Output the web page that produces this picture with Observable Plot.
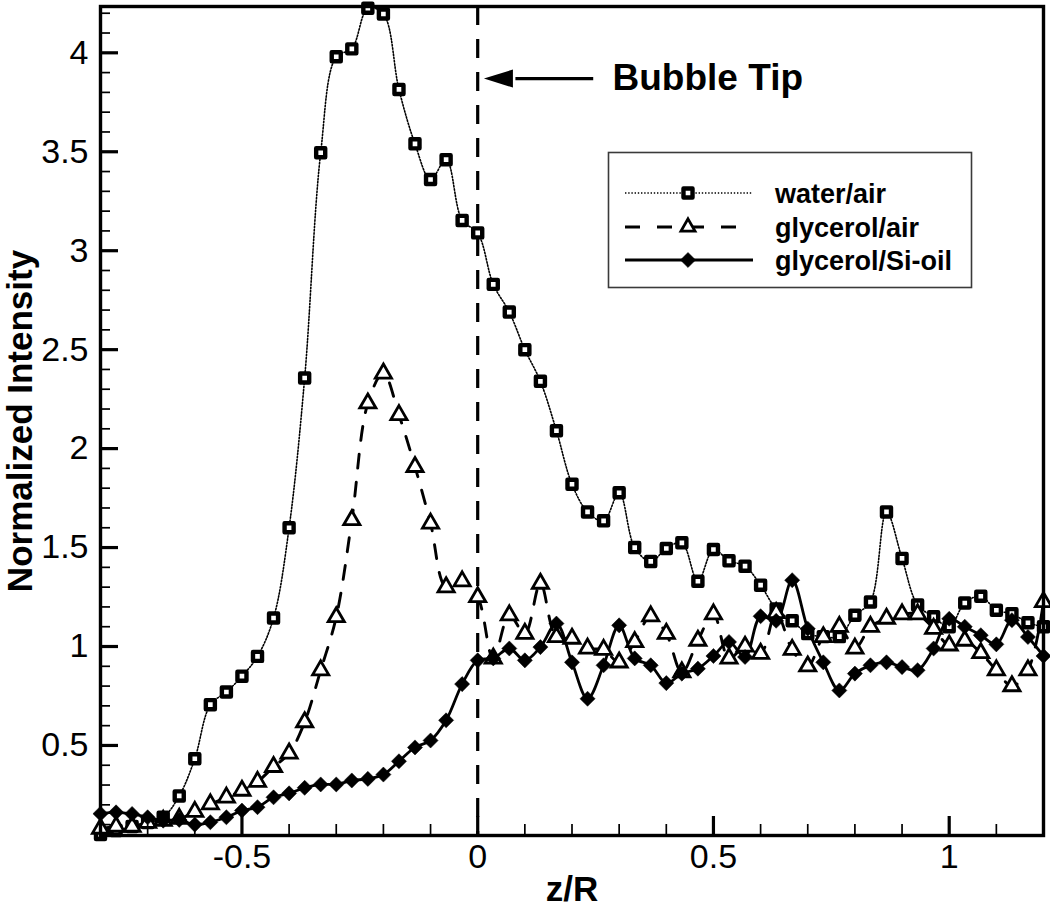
<!DOCTYPE html>
<html><head><meta charset="utf-8">
<script src="https://cdn.jsdelivr.net/npm/d3@7"></script>
<script src="https://cdn.jsdelivr.net/npm/@observablehq/plot@0.6"></script>
<style>
html,body{margin:0;padding:0;background:#fff;}
#chart{width:1050px;height:908px;}
</style></head><body><div id="chart"></div>
<script>
// ---- data ----
const zR = [-0.8,-0.767,-0.733,-0.7,-0.667,-0.633,-0.6,-0.567,-0.533,-0.5,-0.467,-0.433,-0.4,-0.367,-0.333,-0.3,-0.267,-0.233,-0.2,-0.167,-0.133,-0.1,-0.067,-0.033,0,0.033,0.067,0.1,0.133,0.167,0.2,0.233,0.267,0.3,0.333,0.367,0.4,0.433,0.467,0.5,0.533,0.567,0.6,0.633,0.667,0.7,0.733,0.767,0.8,0.833,0.867,0.9,0.933,0.967,1.0,1.033,1.067,1.1,1.133,1.167,1.2];
const waterAir = [0.05,0.07,0.09,0.11,0.137,0.245,0.433,0.706,0.77,0.85,0.95,1.144,1.60,2.357,3.495,3.98,4.02,4.225,4.196,3.815,3.54,3.36,3.46,3.153,3.09,2.83,2.69,2.50,2.34,2.09,1.82,1.68,1.635,1.777,1.50,1.43,1.495,1.524,1.33,1.49,1.433,1.406,1.31,1.19,1.13,1.065,1.05,1.05,1.158,1.225,1.68,1.445,1.21,1.15,1.10,1.22,1.254,1.183,1.166,1.12,1.10];
const glycerolAir = [0.08,0.09,0.09,0.11,0.12,0.13,0.165,0.203,0.237,0.272,0.317,0.392,0.46,0.618,0.88,1.149,1.639,2.229,2.38,2.17,1.908,1.622,1.30,1.33,1.25,0.94,1.158,1.065,1.318,1.048,1.04,0.99,0.984,0.92,1.023,1.153,1.065,0.87,1.03,1.163,0.94,1.0,0.964,1.17,0.984,0.90,1.048,1.10,0.99,1.10,1.141,1.163,1.163,1.09,1.006,1.03,0.967,0.88,0.80,0.88,1.225];
const glycerolSiOil = [0.155,0.162,0.154,0.137,0.12,0.124,0.10,0.112,0.137,0.171,0.188,0.238,0.258,0.286,0.303,0.303,0.323,0.331,0.353,0.42,0.49,0.525,0.627,0.81,0.93,0.94,0.99,0.93,0.997,1.116,0.92,0.736,0.905,1.107,0.94,0.905,0.815,0.863,0.888,0.952,1.023,0.947,1.153,1.13,1.335,1.09,0.92,0.778,0.863,0.905,0.92,0.896,0.88,0.99,1.14,1.10,1.057,1.011,1.133,1.048,0.952];
const seriesNames = ["water/air", "glycerol/air", "glycerol/Si-oil"];
const xMajorTicks = [-0.5, 0, 0.5, 1];
const xMinorTicks = [-0.7,-0.6,-0.4,-0.3,-0.2,-0.1,0.1,0.2,0.3,0.4,0.6,0.7,0.8,0.9,1.1];
const yMajorTicks = [0.5,1,1.5,2,2.5,3,3.5,4];
const yMinorTicks = [0.1,0.2,0.3,0.4,0.6,0.7,0.8,0.9,1.1,1.2,1.3,1.4,1.6,1.7,1.8,1.9,2.1,2.2,2.3,2.4,2.6,2.7,2.8,2.9,3.1,3.2,3.3,3.4,3.6,3.7,3.8,3.9,4.1,4.2];
const tipLine = [0];
const annotation = [{x: 0.286, y: 3.87, label: "Bubble Tip"}];
const arrowShaft = [{x1: 0.08, x2: 0.245, y: 3.87}];
const arrowHead = [{x: 0.045, y: 3.87}];
const xLabel = "z/R";
const yLabel = "Normalized Intensity";

// ---- build ----
const FONT = "'Liberation Sans', Arial, Helvetica, sans-serif";
const W = 1050, H = 908, ML = 100, MR = 7, MT = 6, MB = 73;
const PW = W - ML - MR, PH = H - MT - MB;

const seriesValues = [waterAir, glycerolAir, glycerolSiOil];
const tables = seriesValues.map((vals, s) => zR.map((z, i) => ({z, v: vals[i], series: seriesNames[s]})));

const styles = [
  {line: {stroke: "black", strokeWidth: 1.6, strokeDasharray: "1.4,1.8"}, dot: {symbol: "square", r: 5.1, fill: "white", stroke: "black", strokeWidth: 4.4, strokeLinejoin: "round"}},
  {line: {stroke: "black", strokeWidth: 2.9, strokeDasharray: "14,14"}, dot: {symbol: "triangle", r: 6.0, fill: "white", stroke: "black", strokeWidth: 2.8, strokeLinejoin: "miter"}},
  {line: {stroke: "black", strokeWidth: 2.8}, dot: {symbol: "diamond2", r: 6.8, fill: "black", stroke: "black", strokeWidth: 0.5}}
];

const arrowSymbol = {draw(ctx) { ctx.moveTo(-15, 0); ctx.lineTo(14, -9); ctx.lineTo(14, 9); ctx.closePath(); }};

function legendMark() {
  const g = d3.create("svg:g");
  const bx = 608.5, by = 152.5, bw = 363, bh = 135;
  g.append("rect").attr("x", bx).attr("y", by).attr("width", bw).attr("height", bh)
    .attr("fill", "white").attr("stroke", "#3a3a3a").attr("stroke-width", 1.6);
  const rows = [193, 227, 260];
  const symbols = [d3.symbolSquare, d3.symbolTriangle, d3.symbolDiamond2];
  seriesNames.forEach((name, i) => {
    const st = styles[i];
    const y = rows[i];
    g.append("line").attr("x1", 625).attr("x2", 753).attr("y1", y).attr("y2", y)
      .attr("stroke", "black").attr("stroke-width", st.line.strokeWidth)
      .attr("stroke-dasharray", i === 1 ? "15,17" : (st.line.strokeDasharray || null));
    const size = Math.PI * st.dot.r * st.dot.r * (i === 1 ? 0.75 : 1);
    g.append("path").attr("transform", `translate(688,${y})`)
      .attr("d", d3.symbol(symbols[i], size)())
      .attr("fill", st.dot.fill).attr("stroke", st.dot.stroke).attr("stroke-width", st.dot.strokeWidth)
      .attr("stroke-linejoin", st.dot.strokeLinejoin || "miter");
    g.append("text").attr("x", 775).attr("y", y).attr("dy", "0.36em")
      .attr("text-anchor", "start")
      .attr("font-family", FONT).attr("font-size", 27).attr("font-weight", "bold").attr("fill", "black")
      .text(name);
  });
  return g.node();
}

const marks = [];
// vertical dashed line at the bubble tip
marks.push(Plot.ruleX(tipLine, {stroke: "black", strokeWidth: 3.2, strokeDasharray: "19,14"}));
// series
tables.forEach((t, s) => {
  marks.push(Plot.line(t, {x: "z", y: "v", curve: "catmull-rom", ...styles[s].line}));
});
tables.forEach((t, s) => {
  marks.push(Plot.dot(t, {x: "z", y: "v", ...styles[s].dot}));
});
// ticks (inward)
marks.push(Plot.ruleX(xMajorTicks, {stroke: "black", strokeWidth: 3.2, insetTop: PH - 19}));
marks.push(Plot.ruleX(xMinorTicks, {stroke: "black", strokeWidth: 1.7, insetTop: PH - 11}));
marks.push(Plot.ruleY(yMajorTicks, {stroke: "black", strokeWidth: 3.2, insetRight: PW - 18}));
marks.push(Plot.ruleY(yMinorTicks, {stroke: "black", strokeWidth: 1.7, insetRight: PW - 10}));
marks.push(Plot.frame({stroke: "black", strokeWidth: 3.4}));
// tick labels
marks.push(Plot.axisX({ticks: xMajorTicks, tickSize: 0, tickPadding: 8, tickFormat: d => String(d), label: null, fontSize: 34}));
marks.push(Plot.axisY({ticks: yMajorTicks, tickSize: 0, tickPadding: 12, tickFormat: d => String(d), label: null, fontSize: 34}));
// axis titles
marks.push(Plot.text([xLabel], {frameAnchor: "bottom", dy: 54, text: d => d, fontSize: 35, fontWeight: "bold", lineAnchor: "middle", textAnchor: "middle"}));
marks.push(Plot.text([yLabel], {frameAnchor: "left", dx: -80, rotate: -90, text: d => d, fontSize: 35, fontWeight: "bold", lineAnchor: "middle", textAnchor: "middle"}));
// annotation
marks.push(Plot.link(arrowShaft, {x1: "x1", x2: "x2", y1: "y", y2: "y", stroke: "black", strokeWidth: 3.2}));
marks.push(Plot.dot(arrowHead, {x: "x", y: "y", symbol: arrowSymbol, fill: "black", stroke: "none"}));
marks.push(Plot.text(annotation, {x: "x", y: "y", text: "label", textAnchor: "start", fontSize: 37, fontWeight: "bold", lineAnchor: "middle"}));
// legend
marks.push(legendMark);

const chart = Plot.plot({
  width: W, height: H,
  marginLeft: ML, marginRight: MR, marginTop: MT, marginBottom: MB,
  x: {domain: [-0.8, 1.2], axis: null},
  y: {domain: [0.045, 4.234], axis: null},
  style: {fontFamily: FONT, fontSize: "33px", color: "black", background: "white", overflow: "visible"},
  marks
});
document.getElementById("chart").appendChild(chart);
</script>
</body></html>
